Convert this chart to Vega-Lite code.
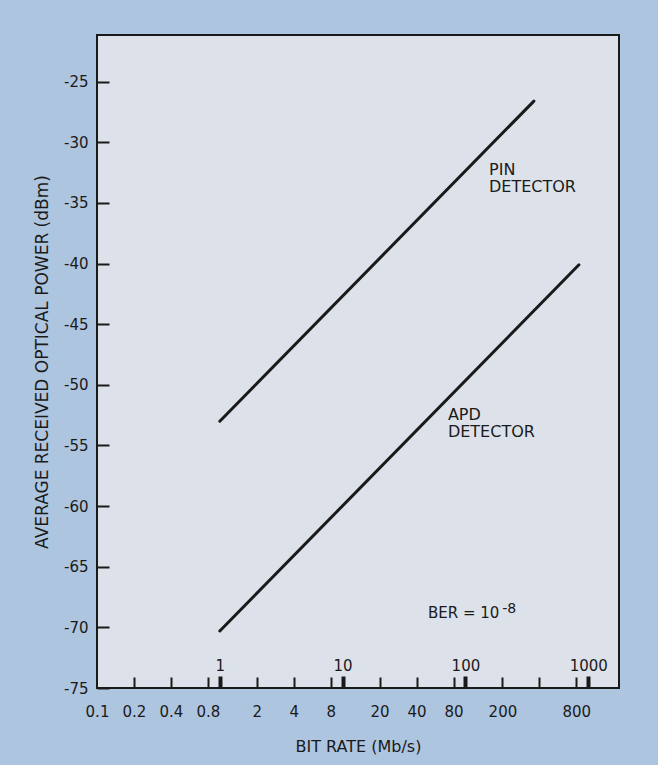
{
  "$schema": "https://vega.github.io/schema/vega-lite/v6.json",
  "autosize": {"type": "none"},
  "width": 522,
  "height": 653,
  "padding": {"left": 97, "top": 35, "right": 39, "bottom": 77},
  "background": "#aec5e0",
  "config": {
    "view": {"fill": "#dde2ea", "stroke": "#1a1a1a", "strokeWidth": 2},
    "font": "DejaVu Sans",
    "axis": {"labelFont": "DejaVu Sans", "titleFont": "DejaVu Sans", "labelColor": "#1a1a1a", "titleColor": "#1a1a1a", "tickColor": "#1a1a1a", "grid": false, "titleFontWeight": "normal"}
  },
  "resolve": {"axis": {"x": "independent"}},
  "layer": [
    {
      "data": {"values": [
        {"rate": 1, "power": -53.0, "detector": "PIN"},
        {"rate": 361, "power": -26.6, "detector": "PIN"},
        {"rate": 1, "power": -70.3, "detector": "APD"},
        {"rate": 840, "power": -40.1, "detector": "APD"}
      ]},
      "mark": {"type": "line", "color": "#1a1a1a", "strokeWidth": 3, "strokeCap": "round"},
      "encoding": {
        "x": {"field": "rate", "type": "quantitative",
          "scale": {"type": "log", "domain": [0.1, 1780], "nice": false},
          "axis": {"orient": "bottom", "values": [0.1, 0.2, 0.4, 0.8, 2, 4, 8, 20, 40, 80, 200, 800],
            "ticks": false, "domain": false, "labelFontSize": 15, "labelPadding": 16, "labelOverlap": false, "labelFlush": false,
            "labelExpr": "datum.value < 1 ? format(datum.value, '.1f') : format(datum.value, 'd')",
            "title": "BIT RATE (Mb/s)", "titleFontSize": 16, "titlePadding": 19}},
        "y": {"field": "power", "type": "quantitative",
          "scale": {"domain": [-75, -21.15], "nice": false, "zero": false},
          "axis": {"values": [-75, -70, -65, -60, -55, -50, -45, -40, -35, -30, -25],
            "tickSize": -12, "tickWidth": 2, "domain": false, "labelFontSize": 15, "labelPadding": 21,
            "labelExpr": "'-' + abs(datum.value)",
            "title": "AVERAGE RECEIVED OPTICAL POWER (dBm)", "titleFontSize": 17, "titlePadding": 12}},
        "detail": {"field": "detector"}
      }
    },
    {
      "data": {"values": [
        {"rate": 155.6, "power": -32.7, "label": "PIN\nDETECTOR", "size": 16},
        {"rate": 72, "power": -52.9, "label": "APD\nDETECTOR", "size": 16},
        {"rate": 49.5, "power": -69.2, "label": "BER = 10", "size": 15},
        {"rate": 199, "power": -68.8, "label": "-8", "size": 14}
      ]},
      "mark": {"type": "text", "align": "left", "baseline": "alphabetic", "lineBreak": "\n", "lineHeight": 17, "color": "#1a1a1a"},
      "encoding": {
        "x": {"field": "rate", "type": "quantitative",
          "axis": {"orient": "top", "offset": -653, "domain": false,
            "values": [0.2, 0.4, 0.8, 1, 2, 4, 8, 10, 20, 40, 80, 100, 200, 400, 800, 1000],
            "tickSize": {"condition": {"test": "indexof([1,10,100,1000], datum.value) >= 0", "value": 12}, "value": 11},
            "tickWidth": {"condition": {"test": "indexof([1,10,100,1000], datum.value) >= 0", "value": 4}, "value": 2},
            "labelExpr": "indexof([1,10,100,1000], datum.value) >= 0 ? format(datum.value, 'd') : ''",
            "labelFontSize": 15, "labelPadding": 3, "labelOverlap": false, "labelFlush": false, "labelBound": false,
            "title": null}},
        "y": {"field": "power", "type": "quantitative"},
        "text": {"field": "label"},
        "size": {"field": "size", "type": "quantitative", "scale": null, "legend": null}
      }
    }
  ]
}
